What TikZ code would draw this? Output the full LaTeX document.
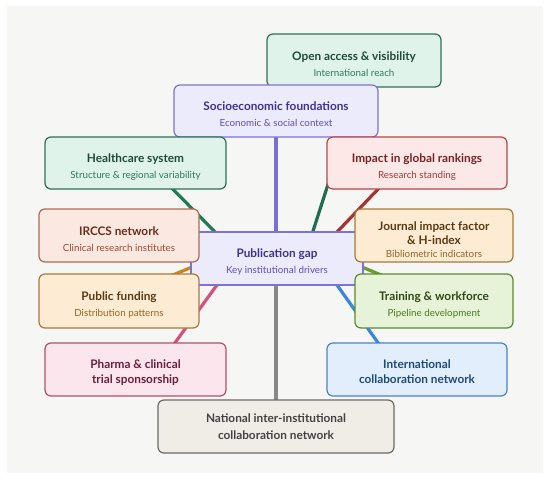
\documentclass[tikz,border=0pt]{standalone}
\usepackage{fontspec}
\setmainfont{Lato}
\usetikzlibrary{calc}
% fills / borders / text colours
\definecolor{bgc}{HTML}{F6F6F4}
\definecolor{gF}{HTML}{DFF3EA}\definecolor{gD}{HTML}{2F6F58}\definecolor{gT}{HTML}{1E4A3B}\definecolor{gS}{HTML}{2E7A5E}
\definecolor{pF}{HTML}{ECEBFC}\definecolor{pD}{HTML}{7D72D8}\definecolor{pT}{HTML}{3C3490}\definecolor{pS}{HTML}{5A50C0}
\definecolor{rF}{HTML}{FDE8E8}\definecolor{rD}{HTML}{B54848}\definecolor{rT}{HTML}{7A2222}\definecolor{rS}{HTML}{A33838}
\definecolor{sF}{HTML}{FBE8E0}\definecolor{sD}{HTML}{B06A50}\definecolor{sT}{HTML}{6B2E18}\definecolor{sS}{HTML}{A04A2A}
\definecolor{oF}{HTML}{FDEBD3}\definecolor{oD}{HTML}{A87A3A}\definecolor{oT}{HTML}{5A3A10}\definecolor{oS}{HTML}{9A6520}
\definecolor{lF}{HTML}{E6F3D9}\definecolor{lD}{HTML}{5C8A30}\definecolor{lT}{HTML}{2F4A12}\definecolor{lS}{HTML}{4A7A1A}
\definecolor{kF}{HTML}{FCE6EE}\definecolor{kD}{HTML}{B0506F}\definecolor{kT}{HTML}{6A1E3E}
\definecolor{bF}{HTML}{E2EEFB}\definecolor{bD}{HTML}{4A84C8}\definecolor{bT}{HTML}{1E4A7A}
\definecolor{nF}{HTML}{F0EDE7}\definecolor{nD}{HTML}{6E6B66}\definecolor{nT}{HTML}{444240}
\definecolor{cPur}{HTML}{7B6FD6}\definecolor{cGry}{HTML}{8A8886}\definecolor{cGrn}{HTML}{1F7A55}
\definecolor{cOA}{HTML}{1F6E50}\definecolor{cRed}{HTML}{A83232}\definecolor{cOrg}{HTML}{C8861E}
\definecolor{cLim}{HTML}{6A9E2A}\definecolor{cPnk}{HTML}{D4507E}\definecolor{cBlu}{HTML}{3A86D8}
\tikzset{
  box/.style={draw, rounded corners=6pt, line width=1.2pt, inner sep=0pt},
  hub/.style={draw, line width=1.3pt, inner sep=0pt},
  ghost/.style={inner sep=0pt},
  ttl/.style={anchor=base, inner sep=0pt, font=\bfseries\fontsize{11.8}{14}\selectfont},
  sub/.style={anchor=base, inner sep=0pt, font=\fontsize{9.8}{12}\selectfont},
  conn/.style={line width=3.2pt}
}
\begin{document}
\begin{tikzpicture}[x=1pt,y=-1pt]
\fill[white] (0,0) rectangle (550,482);
\useasboundingbox (0,0) rectangle (550,482);
\fill[bgc] (7,6) rectangle (543,473);

% outline shapes (invisible) used as connector anchors
\path (354,60.5)    node[ghost, minimum width=174pt, minimum height=53pt] (oashape) {};
\path (276,111)     node[ghost, minimum width=204pt, minimum height=52pt] (soshape) {};
\path (277,258.5)   node[ghost, minimum width=172pt, minimum height=53pt] (pgshape) {};
\path (135.5,163)   node[ghost, minimum width=181pt, minimum height=52pt] (hcshape) {};
\path (417,163)     node[ghost, minimum width=180pt, minimum height=52pt] (impshape) {};
\path (119,301)     node[ghost, minimum width=160pt, minimum height=54pt] (pfshape) {};
\path (434,301)     node[ghost, minimum width=158pt, minimum height=54pt] (trshape) {};
\path (135.5,369.5) node[ghost, minimum width=181pt, minimum height=53pt] (phshape) {};
\path (417,369.5)   node[ghost, minimum width=180pt, minimum height=53pt] (inshape) {};
\path (276,426.5)   node[ghost, minimum width=236pt, minimum height=53pt] (natshape) {};

% connectors (drawn first, boxes cover their ends)
\draw[conn, cPur] ($(soshape.south)+(0,-2)$) -- ($(soshape.south |- pgshape.north)+(0,2)$);
\draw[conn, cGry] ($(natshape.north)+(0,2)$) -- ($(natshape.north |- pgshape.south)+(0,-2)$);
\draw[conn, cOA]  ($(oashape.south)+(6.2,-3)$) -- ($(pgshape.north west)+(120.7,4)$);
\draw[conn, cGrn] ($(hcshape.south)+(33.5,-4)$) -- ($(pgshape.north west)+(28,4)$);
\draw[conn, cRed] ($(impshape.south)+(-35.2,-4)$) -- ($(pgshape.north east)+(-29.8,4)$);
\draw[conn, cOrg] ($(pgshape.west)+(4,7.4)$) -- ($(pfshape.north east)+(-33,4)$);
\draw[conn, cLim] ($(pgshape.east)+(-4,7.4)$) -- ($(trshape.north west)+(33,4)$);
\draw[conn, cPnk] ($(pgshape.south west)+(28.9,-4)$) -- ($(phshape.north)+(36.6,4)$);
\draw[conn, cBlu] ($(pgshape.south east)+(-28.9,-4)$) -- ($(inshape.north)+(-36.1,4)$);

% boxes
\node[box, fill=gF, draw=gD, minimum width=174pt, minimum height=53pt] (oa) at (oashape) {};
\node[box, fill=pF, draw=pD, minimum width=204pt, minimum height=52pt] (so) at (soshape) {};
\node[box, fill=gF, draw=gD, minimum width=181pt, minimum height=52pt] (hc) at (hcshape) {};
\node[box, fill=rF, draw=rD, minimum width=180pt, minimum height=52pt] (imp) at (impshape) {};
\node[hub, fill=pF, draw=pD, minimum width=172pt, minimum height=53pt] (pg) at (pgshape) {};
\node[box, fill=sF, draw=sD, minimum width=160pt, minimum height=53pt] (ir) at (119,235.5) {};
\node[box, fill=oF, draw=oD, minimum width=158pt, minimum height=53pt] (jo) at (434,235.5) {};
\node[box, fill=oF, draw=oD, minimum width=160pt, minimum height=54pt] (pf) at (pfshape) {};
\node[box, fill=lF, draw=lD, minimum width=158pt, minimum height=54pt] (tr) at (trshape) {};
\node[box, fill=kF, draw=kD, minimum width=181pt, minimum height=53pt] (ph) at (phshape) {};
\node[box, fill=bF, draw=bD, minimum width=180pt, minimum height=53pt] (in) at (inshape) {};
\node[box, fill=nF, draw=nD, minimum width=236pt, minimum height=53pt] (nat) at (natshape) {};

% texts
\node[ttl, text=gT] (oa-t) at ($(oa.center)+(0,-0.5)$) {Open access \& visibility};
\node[sub, text=gS] (oa-s) at ($(oa.center)+(0,15.5)$) {International reach};
\node[ttl, text=pT] (so-t) at ($(so.center)+(0,-0.5)$) {Socioeconomic foundations};
\node[sub, text=pS] (so-s) at ($(so.center)+(0,15.5)$) {Economic \& social context};
\node[ttl, text=gT] (hc-t) at ($(hc.center)+(0,-0.5)$) {Healthcare system};
\node[sub, text=gS] (hc-s) at ($(hc.center)+(0,15.5)$) {Structure \& regional variability};
\node[ttl, text=rT] (imp-t) at ($(imp.center)+(0,-0.5)$) {Impact in global rankings};
\node[sub, text=rS] (imp-s) at ($(imp.center)+(0,15.5)$) {Research standing};
\node[ttl, text=sT] (ir-t) at ($(ir.center)+(0,-0.5)$) {IRCCS network};
\node[sub, text=sS] (ir-s) at ($(ir.center)+(0,15.5)$) {Clinical research institutes};
\node[ttl, text=oT] (jo-t1) at ($(jo.center)+(0,-5.5)$) {Journal impact factor};
\node[ttl, text=oT] (jo-t2) at ($(jo.center)+(0,8.5)$) {\& H-index};
\node[sub, text=oS] (jo-s) at ($(jo.center)+(0,22)$) {Bibliometric indicators};
\node[ttl, text=pT] (pg-t) at ($(pg.center)+(0,-1)$) {Publication gap};
\node[sub, text=pS] (pg-s) at ($(pg.center)+(0,15)$) {Key institutional drivers};
\node[ttl, text=oT] (pf-t) at ($(pf.center)+(0,-0.5)$) {Public funding};
\node[sub, text=oS] (pf-s) at ($(pf.center)+(0,15.5)$) {Distribution patterns};
\node[ttl, text=lT] (tr-t) at ($(tr.center)+(0,-0.5)$) {Training \& workforce};
\node[sub, text=lS] (tr-s) at ($(tr.center)+(0,15.5)$) {Pipeline development};
\node[ttl, text=kT] (ph-t1) at ($(ph.center)+(0,-1.5)$) {Pharma \& clinical};
\node[ttl, text=kT] (ph-t2) at ($(ph.center)+(0,13.5)$) {trial sponsorship};
\node[ttl, text=bT] (in-t1) at ($(in.center)+(0,-1.5)$) {International};
\node[ttl, text=bT] (in-t2) at ($(in.center)+(0,13.5)$) {collaboration network};
\node[ttl, text=nT] (nat-t1) at ($(nat.center)+(0,-4)$) {National inter-institutional};
\node[ttl, text=nT] (nat-t2) at ($(nat.center)+(0,12.5)$) {collaboration network};
\end{tikzpicture}
\end{document}
